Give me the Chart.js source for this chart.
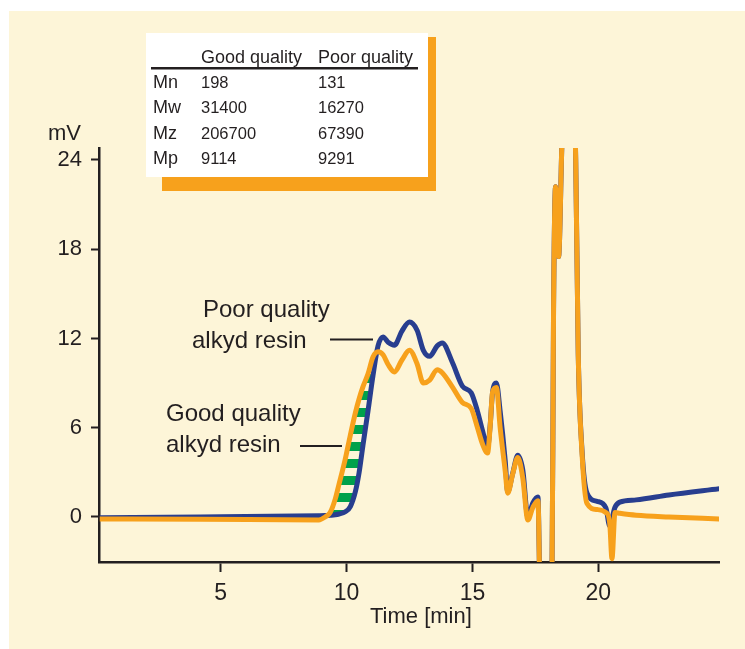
<!DOCTYPE html>
<html>
<head>
<meta charset="utf-8">
<script src="https://cdn.jsdelivr.net/npm/chart.js@4.4.0/dist/chart.umd.min.js"></script>
<style>
  html, body { margin: 0; padding: 0; background: #fff; }
  #wrap { width: 745px; height: 649px; }
</style>
</head>
<body>
<div id="wrap"><canvas id="gpcChart"></canvas></div>
<script>
// retention time [min], shared by both traces
const times = [0.2, 4.2, 8.9, 9.15, 9.35, 9.55, 9.7, 9.95, 10.15, 10.35, 10.5, 10.65, 10.85, 11.05, 11.25,
  11.45, 11.65, 11.9, 12.2, 12.5, 12.8, 13.05, 13.3, 13.6, 13.8, 14.2, 14.6, 14.95, 15.2, 15.4, 15.6,
  15.7, 15.8, 15.95, 16.1, 16.3, 16.4, 16.6, 16.8, 17.0, 17.2, 17.4, 17.6, 17.7, 18.15, 18.22, 18.3,
  18.42, 18.55, 18.7, 18.95, 19.1, 19.2, 19.35, 19.55, 19.95, 20.3, 20.45, 20.54, 20.66, 20.85, 21.5,
  22.8, 24.8];

// detector signal [mV]
const goodQuality = [-0.13, -0.15, -0.2, 0.0, 0.3, 1.2, 2.2, 3.9, 5.5, 7.0, 7.95, 8.75, 9.6, 10.75, 11.1,
  10.9, 10.25, 9.75, 10.55, 11.2, 10.3, 9.0, 9.2, 9.9, 9.7, 8.75, 7.7, 7.3, 6.0, 4.9, 4.3,
  6.0, 8.4, 8.7, 6.0, 3.1, 1.6, 2.9, 4.0, 2.6, -0.2, 0.65, 1.1, -6, -6, 14, 22.2,
  17.5, 25, 32, 32, 24, 11.0, 4.3, 0.9, 0.5, 0.3, -0.4, -2.8, 0.3, 0.25, 0.12,
  0, -0.13];

const poorQuality = [-0.05, 0.0, 0.09, 0.1, 0.12, 0.15, 0.2, 0.35, 0.7, 1.7, 3.0, 4.8, 7.1, 9.5, 11.5,
  12.1, 11.75, 11.55, 12.5, 13.1, 12.55, 11.2, 10.8, 11.5, 11.7, 10.4, 8.8, 8.35, 7.1, 5.8, 4.7,
  6.1, 8.4, 9.0, 7.1, 3.8, 1.7, 2.95, 4.15, 3.15, 0.0, 0.95, 1.35, -6, -6, 14, 22.2,
  17.5, 25, 32, 32, 24, 11.0, 4.5, 1.6, 1.05, 0.6, -0.6, -0.1, 0.65, 1.0, 1.15,
  1.48, 1.9];

const xTicks = [5, 10, 15, 20];
const yTicks = [0, 6, 12, 18, 24];

const tableHeader = ["Good quality", "Poor quality"];
const tableLabels = ["Mn", "Mw", "Mz", "Mp"];
const tableGood = ["198", "31400", "206700", "9114"];
const tablePoor = ["131", "16270", "67390", "9291"];

const FONT = "'Liberation Sans', Arial, sans-serif";
const INK = "#231F20";
const ORANGE = "#F7A11C";
const BLUE = "#283E8F";

// green horizontal stripes for the area between the two traces
function makeStripes() {
  const c = document.createElement("canvas");
  c.width = 8; c.height = 17;
  const g = c.getContext("2d");
  g.fillStyle = "#00A14B";
  g.fillRect(0, 0, 8, 9);
  return g.createPattern(c, "repeat");
}

const decorations = {
  id: "decorations",
  beforeDraw(chart) {
    const ctx = chart.ctx;
    ctx.save();
    ctx.fillStyle = "#fff";
    ctx.fillRect(0, 0, chart.width, chart.height);
    ctx.fillStyle = "#FDF5D8";
    ctx.fillRect(9, 11, chart.width - 9, chart.height - 11);
    ctx.restore();
  },
  afterDraw(chart) {
    const ctx = chart.ctx;
    ctx.save();
    // table box with orange shadow
    ctx.fillStyle = ORANGE;
    ctx.fillRect(162, 37, 274, 154);
    ctx.fillStyle = "#fff";
    ctx.fillRect(146, 33, 282, 144);

    ctx.fillStyle = INK;
    ctx.textBaseline = "alphabetic";
    ctx.textAlign = "left";
    ctx.font = "18px " + FONT;
    ctx.fillText(tableHeader[0], 201, 63);
    ctx.fillText(tableHeader[1], 318, 63);
    ctx.fillRect(151, 67, 267, 2.5);
    tableLabels.forEach((lab, r) => {
      const y = 88 + r * 25.3;
      ctx.font = "18px " + FONT;
      ctx.fillText(lab, 153, y);
      ctx.font = "16.5px " + FONT;
      ctx.fillText(tableGood[r], 201, y);
      ctx.fillText(tablePoor[r], 318, y);
    });

    // axis captions
    ctx.font = "22px " + FONT;
    ctx.fillText("mV", 48, 140);
    ctx.fillText("Time [min]", 370, 623);

    // trace labels
    ctx.font = "24px " + FONT;
    ctx.fillText("Poor quality", 203, 317);
    ctx.fillText("alkyd resin", 192, 348);
    ctx.fillText("Good quality", 166, 421);
    ctx.fillText("alkyd resin", 166, 452);

    ctx.strokeStyle = INK;
    ctx.lineWidth = 2;
    ctx.beginPath();
    ctx.moveTo(330, 339.5); ctx.lineTo(373, 339.5);
    ctx.moveTo(300, 446); ctx.lineTo(342, 446);
    ctx.stroke();
    ctx.restore();
  }
};

const ctx = document.getElementById("gpcChart").getContext("2d");
new Chart(ctx, {
  type: "line",
  data: {
    datasets: [
      {
        label: "Good quality alkyd resin",
        data: times.map((t, i) => ({ x: t, y: goodQuality[i] })),
        borderColor: ORANGE,
        borderWidth: 5,
        pointRadius: 0,
        cubicInterpolationMode: "monotone",
        fill: { target: 1, above: makeStripes(), below: "rgba(0,0,0,0)" }
      },
      {
        label: "Poor quality alkyd resin",
        data: times.map((t, i) => ({ x: t, y: poorQuality[i] })),
        borderColor: BLUE,
        borderWidth: 5,
        pointRadius: 0,
        cubicInterpolationMode: "monotone",
        fill: false
      }
    ]
  },
  options: {
    responsive: true,
    maintainAspectRatio: false,
    animation: false,
    layout: { padding: { left: 0, top: 148, right: 26, bottom: 0 } },
    plugins: {
      legend: { display: false },
      tooltip: { enabled: false },
      filler: { drawTime: "beforeDatasetsDraw" }
    },
    scales: {
      x: {
        type: "linear",
        min: 0.17,
        max: 24.79,
        afterFit: s => { s.height = 87; },
        afterBuildTicks: s => { s.ticks = xTicks.map(v => ({ value: v })); },
        border: { display: true, color: INK, width: 2.5 },
        grid: { drawOnChartArea: false, drawTicks: true, tickLength: 10, tickWidth: 2, tickColor: INK },
        ticks: { color: INK, font: { family: FONT, size: 23 }, padding: 8, maxRotation: 0 }
      },
      y: {
        type: "linear",
        min: -3.025,
        max: 24.8,
        afterFit: s => { s.width = 99; },
        afterBuildTicks: s => { s.ticks = yTicks.map(v => ({ value: v })); },
        border: { display: true, color: INK, width: 2.5 },
        grid: { drawOnChartArea: false, drawTicks: true, tickLength: 8, tickWidth: 2, tickColor: INK },
        ticks: { color: INK, font: { family: FONT, size: 22 }, padding: 9 }
      }
    }
  },
  plugins: [decorations]
});
</script>
</body>
</html>
